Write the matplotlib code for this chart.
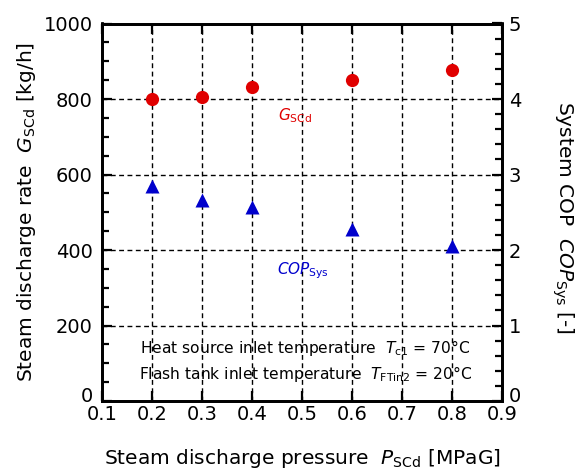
#!/usr/bin/env python

import matplotlib
matplotlib.use("Agg")
import matplotlib.pyplot as plt
import matplotlib.transforms as mtransforms
from matplotlib.ticker import MultipleLocator

# Steam discharge pressure [MPaG]
pressure = [0.2, 0.3, 0.4, 0.6, 0.8]
# Steam discharge rate G_SCd [kg/h]
g_scd = [800, 805, 832, 851, 876]
# System COP
cop_sys = [2.85, 2.66, 2.57, 2.28, 2.05]

RED = "#e00000"
BLUE = "#0000cc"

plt.rcParams["font.family"] = ["DejaVu Sans"]
plt.rcParams["mathtext.fontset"] = "dejavusans"

fig = plt.figure(figsize=(5.81, 4.70), dpi=100)
ax1 = fig.add_axes([0.1756, 0.1468, 0.6885, 0.8032])
ax2 = ax1.twinx()

ax1.plot(pressure, g_scd, "o", color=RED, ms=9.5, mec="none", zorder=5)
ax2.plot(pressure, cop_sys, "^", color=BLUE, ms=9.5, mec="none", zorder=5)

ax1.set_xlim(0.1, 0.9)
ax1.set_ylim(0, 1000)
ax2.set_ylim(0, 5)

ax1.set_yticks([0, 200, 400, 600, 800, 1000])
ax1.yaxis.set_minor_locator(MultipleLocator(50))
ax2.set_yticks([0, 1, 2, 3, 4, 5])
ax2.yaxis.set_minor_locator(MultipleLocator(0.2))
ax1.set_xticks([0.1, 0.2, 0.3, 0.4, 0.5, 0.6, 0.7, 0.8, 0.9])
ax1.set_xticklabels(["0.1", "0.2", "0.3", "0.4", "0.5", "0.6", "0.7", "0.8", "0.9"])

ax1.grid(True, which="major", color="black", linestyle=(0, (3.5, 2.5)),
         linewidth=1.0)

for ax in (ax1, ax2):
    for s in ax.spines.values():
        s.set_linewidth(2.0)

ax1.tick_params(axis="x", which="major", direction="in", top=True,
                length=7, width=1.6, labelsize=14, pad=3)
ax1.tick_params(axis="y", which="major", direction="in", right=False,
                length=7, width=1.6, labelsize=14, pad=6.5)
ax1.tick_params(axis="y", which="minor", direction="in", right=False,
                length=5, width=1.6)
ax2.tick_params(axis="y", which="major", direction="in", length=7,
                width=1.6, labelsize=14, pad=5)
ax2.tick_params(axis="y", which="minor", direction="in", length=5,
                width=1.6)

# the "0" labels sit a little above the corner, clear of "0.1" / "0.9"
shift = mtransforms.ScaledTranslation(0, 5 / 72, fig.dpi_scale_trans)
for lbl in (ax1.get_yticklabels()[0], ax2.get_yticklabels()[0]):
    lbl.set_transform(lbl.get_transform() + shift)

ax1.set_xlabel(r"Steam discharge pressure  $\it{P}_{\rm SCd}$ [MPaG]",
               fontsize=14.5)
ax1.xaxis.set_label_coords(0.5, -0.122)
ax1.set_ylabel(r"Steam discharge rate  $\it{G}_{\rm SCd}$ [kg/h]",
               fontsize=14.5)
ax1.yaxis.set_label_coords(-0.16, 0.5)
ax2.set_ylabel(r"System COP  $\it{COP}_{\rm Sys}$ [-]", fontsize=14.5,
               rotation=270, va="bottom")
ax2.yaxis.set_label_coords(1.12, 0.485)

ax1.text(0.452, 755, r"$\it{G}_{\rm SCd}$", color=RED, fontsize=11,
         va="center", ha="left")
ax1.text(0.45, 344, r"$\it{COP}_{\rm Sys}$", color=BLUE, fontsize=11,
         va="center", ha="left")
ax1.text(0.507, 141, r"Heat source inlet temperature  $\it{T}_{\rm c1}$ = 70°C",
         fontsize=11.2, ha="center", va="center")
ax1.text(0.507, 71, r"Flash tank inlet temperature  $\it{T}_{\rm FTin2}$ = 20°C",
         fontsize=11.2, ha="center", va="center")

fig.savefig("out.png", dpi=100)
